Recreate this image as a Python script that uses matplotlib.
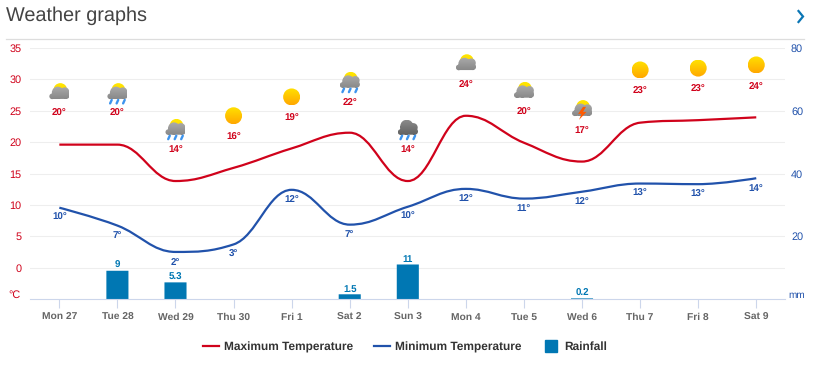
# weather graphs: 13 day forecast, temperature lines + rainfall bars
import numpy as np
import matplotlib
matplotlib.use('Agg')
import matplotlib.pyplot as plt
from matplotlib.path import Path
from matplotlib.patches import PathPatch, Polygon
from matplotlib.lines import Line2D
from matplotlib.transforms import Affine2D

plt.rcParams['font.family'] = ['Liberation Sans', 'DejaVu Sans']
plt.rcParams['text.hinting'] = 'none'

days = ['Mon 27', 'Tue 28', 'Wed 29', 'Thu 30', 'Fri 1', 'Sat 2', 'Sun 3',
        'Mon 4', 'Tue 5', 'Wed 6', 'Thu 7', 'Fri 8', 'Sat 9']
max_temp = [19.6, 19.6, 13.8, 15.9, 19.0, 21.5, 13.8, 24.2, 19.9, 16.9, 23.1, 23.5, 23.95]
min_temp = [9.55, 6.7, 2.5, 3.7, 12.4, 6.85, 9.7, 12.55, 11.0, 12.1, 13.4, 13.3, 14.25]
max_labels = ['20°', '20°', '14°', '16°', '19°', '22°', '14°', '24°', '20°', '17°', '23°', '23°', '24°']
min_labels = ['10°', '7°', '2°', '3°', '12°', '7°', '10°', '12°', '11°', '12°', '13°', '13°', '14°']
rain_days = [1, 2, 5, 6, 9]
rain_mm = [9, 5.3, 1.5, 11, 0.2]
rain_labels = ['9', '5.3', '1.5', '11', '0.2']
icons = ['part', 'rain', 'rain', 'sun', 'sun', 'rain', 'storm', 'part', 'part', 'bolt', 'sun', 'sun', 'sun']
icon_level = [28.0, 28.0, 22.3, 24.2, 27.2, 29.8, 22.3, 32.6, 28.2, 25.3, 31.5, 31.8, 32.3]
temp_ticks = [0, 5, 10, 15, 20, 25, 30, 35]
rain_ticks = [20, 40, 60, 80]

RED = '#d0021b'
BLUE = '#2152ab'
BAR = '#0077b3'
W, H = 818, 366


def spline_path(ys):
    # same smoothing as the original chart spline, control points per segment
    n = len(ys)
    left = []
    right = []
    for i in range(n):
        if i == 0 or i == n - 1:
            left.append((i, ys[i]))
            right.append((i, ys[i]))
            continue
        lx = (1.5 * i + i - 1) / 2.5
        ly = (1.5 * ys[i] + ys[i - 1]) / 2.5
        rx = (1.5 * i + i + 1) / 2.5
        ry = (1.5 * ys[i] + ys[i + 1]) / 2.5
        corr = (ry - ly) * (rx - i) / (rx - lx) + ys[i] - ry
        ly += corr
        ry += corr
        if ly > ys[i - 1] and ly > ys[i]:
            ly = max(ys[i - 1], ys[i])
            ry = 2 * ys[i] - ly
        elif ly < ys[i - 1] and ly < ys[i]:
            ly = min(ys[i - 1], ys[i])
            ry = 2 * ys[i] - ly
        if ry > ys[i + 1] and ry > ys[i]:
            ry = max(ys[i + 1], ys[i])
            ly = 2 * ys[i] - ry
        elif ry < ys[i + 1] and ry < ys[i]:
            ry = min(ys[i + 1], ys[i])
            ly = 2 * ys[i] - ry
        left.append((lx, ly))
        right.append((rx, ry))
    verts = [(0, ys[0])]
    codes = [Path.MOVETO]
    for i in range(1, n):
        verts += [right[i - 1], left[i], (i, ys[i])]
        codes += [Path.CURVE4] * 3
    return Path(verts, codes)


def gradient(ov, clip, x0, x1, y0, y1, top, bottom):
    c0 = np.array(matplotlib.colors.to_rgb(top))
    c1 = np.array(matplotlib.colors.to_rgb(bottom))
    t = np.linspace(0, 1, 32)[:, None, None]
    img = c0[None, None, :] * (1 - t) + c1[None, None, :] * t
    im = ov.imshow(img, extent=(x0, x1, y1, y0), aspect='auto', interpolation='bilinear', zorder=6)
    im.set_clip_path(clip)


def draw_sun(ov, cx, cy, r=8.5):
    clip = PathPatch(Path.circle((cx, cy), r), transform=ov.transData, fc='none', ec='none')
    ov.add_patch(clip)
    gradient(ov, clip, cx - r, cx + r, cy - r, cy + r, '#ffe000', '#ffa800')


def draw_cloud(ov, cx, cy, top, bottom, sun=True):
    if sun:
        clip = PathPatch(Path.circle((cx + 1, cy - 2), 6.8), transform=ov.transData, fc='none', ec='none')
        ov.add_patch(clip)
        gradient(ov, clip, cx - 7, cx + 8, cy - 9, cy + 5, '#ffe800', '#ffc800')
    base = Path.unit_rectangle().transformed(Affine2D().scale(15, 5).translate(cx - 7.5, cy + 2))
    parts = [Path.circle((cx - 1.5, cy + 0.7), 6), Path.circle((cx + 5.5, cy - 0.2), 4.4),
             Path.circle((cx - 7.2, cy + 4.4), 2.8), Path.circle((cx + 7, cy + 3.8), 3.2), base]
    if not sun:
        # the plain rain cloud has a taller dome
        parts.append(Path.circle((cx - 1, cy - 1.5), 6.5))
    cloud = Path.make_compound_path(*parts)
    clip = PathPatch(cloud, transform=ov.transData, fc='none', ec='none')
    ov.add_patch(clip)
    gradient(ov, clip, cx - 10, cx + 10, cy - 8, cy + 8, top, bottom)


def draw_drops(ov, cx, cy):
    for dx in (-6.5, 0, 6.5):
        ov.plot([cx + dx + 0.8, cx + dx - 0.8], [cy + 8, cy + 11.5], color='#3d94ee', lw=1.7,
                solid_capstyle='round', zorder=7)


fig = plt.figure(figsize=(W / 100, H / 100), dpi=100)
ax = fig.add_axes([30.3 / W, 1 - 299 / H, 755 / W, 251 / H])
ax.set_xlim(-0.5, 12.5)
ax.set_ylim(-5, 35)
ax2 = ax.twinx()
ax2.set_ylim(0, 80)

# rain axis on top so the bars cover the gridlines
ax.set_zorder(1)
ax2.set_zorder(2)
ax2.patch.set_visible(False)

# grid + axis
ax.set_yticks(temp_ticks)
ax.set_yticklabels([str(t) for t in temp_ticks])
ax.grid(axis='y', color='#eeeeee', lw=0.8)
ax.set_axisbelow(True)
for s in ['top', 'left', 'right']:
    ax.spines[s].set_visible(False)
    ax2.spines[s].set_visible(False)
ax.spines['bottom'].set_visible(False)
ax2.spines['bottom'].set_color('#ccd6eb')
ax2.spines['bottom'].set_linewidth(0.8)
ax.tick_params(axis='y', length=0, pad=6.2, labelcolor=RED, labelsize=7.8)
ax.set_xticks(range(len(days)))
ax.set_xticklabels(days, fontweight='bold', color='#666666', fontsize=7.4, va='baseline')
ax.tick_params(axis='x', length=6.5, width=0.8, color='#ccd6eb', pad=8.4)

ax2.set_yticks(rain_ticks)
ax2.set_yticklabels([str(t) for t in rain_ticks])
ax2.tick_params(axis='y', length=0, pad=4.1, labelcolor=BLUE, labelsize=7.8)

# rainfall on the right axis
bars = ax2.bar(rain_days, rain_mm, width=0.38, color=BAR, zorder=1)
for b in bars:
    b.set_snap(False)
for d, v, lab in zip(rain_days, rain_mm, rain_labels):
    ax2.annotate(lab, (d, v), xytext=(0, 0.5), textcoords='offset points', ha='center', va='bottom',
                 color=BAR, fontweight='bold', fontsize=7)

# temperature lines
ax.add_patch(PathPatch(spline_path(max_temp), fc='none', ec=RED, lw=1.6, capstyle='butt', zorder=4))
ax.add_patch(PathPatch(spline_path(min_temp), fc='none', ec=BLUE, lw=1.6, capstyle='butt', zorder=4))
for i, lab in enumerate(min_labels):
    ax.annotate(lab, (i, min_temp[i]), xytext=(0, -7.2), textcoords='offset points', ha='center',
                va='center', color=BLUE, fontweight='bold', fontsize=7, zorder=5)
for i, lab in enumerate(max_labels):
    ax.annotate(lab, (i, icon_level[i]), xytext=(0, -15.6), textcoords='offset points', ha='center',
                va='center', color=RED, fontweight='bold', fontsize=7, zorder=5)

# unit labels
fig.text(20.5 / W, 1 - 295 / H, '°C', ha='right', va='center', color=RED, fontsize=7.8)
fig.text(788 / W, 1 - 295.5 / H, 'mm', ha='left', va='center', color=BLUE, fontsize=7.2)

# heading
fig.text(6 / W, 1 - 16 / H, 'Weather graphs', fontsize=14.3, color='#444444', ha='left', va='center')
fig.add_artist(Line2D([6 / W, 804 / W], [1 - 38.5 / H] * 2, color='#dddddd', lw=0.9))

# weather icons, drawn in a pixel overlay
ov = fig.add_axes([0, 0, 1, 1], zorder=5)
ov.axis('off')
ov.patch.set_visible(False)
fig.canvas.draw()
for i, kind in enumerate(icons):
    px, py = ax.transData.transform((i, icon_level[i]))
    cx = px
    cy = H - py
    if kind == 'sun':
        draw_sun(ov, cx, cy)
    elif kind == 'storm':
        draw_cloud(ov, cx, cy, '#8a8a8a', '#5f5f5f', sun=False)
        draw_drops(ov, cx, cy)
    else:
        draw_cloud(ov, cx, cy, '#b0b0b0', '#868686')
        if kind == 'rain':
            draw_drops(ov, cx, cy)
        if kind == 'bolt':
            bolt = [(1, -2), (-4, 5), (-0.5, 5), (-3, 11), (4.5, 3), (1, 3), (4, -2)]
            ov.add_patch(Polygon([(cx + a, cy + b) for a, b in bolt], fc='#ff5a00', ec='none', zorder=7))

# chevron
ov.plot([798.5, 803, 798.5], [11, 16.5, 22], color='#0a76b5', lw=1.6, solid_joinstyle='miter')
ov.set_xlim(0, W)
ov.set_ylim(H, 0)

handles = [Line2D([], [], color=RED, lw=1.6),
           Line2D([], [], color=BLUE, lw=1.6),
           Line2D([], [], color=BAR, marker='s', ms=8.6, ls='none')]
fig.legend(handles, ['Maximum Temperature', 'Minimum Temperature', 'Rainfall'], loc='center',
           bbox_to_anchor=(405 / W, 1 - 347 / H), ncol=3, frameon=False, handlelength=1.35,
           handletextpad=0.42, columnspacing=1.77, borderpad=0,
           prop={'weight': 'bold', 'size': 8.55}, labelcolor='#333333')

fig.savefig('out.png', dpi=100)
